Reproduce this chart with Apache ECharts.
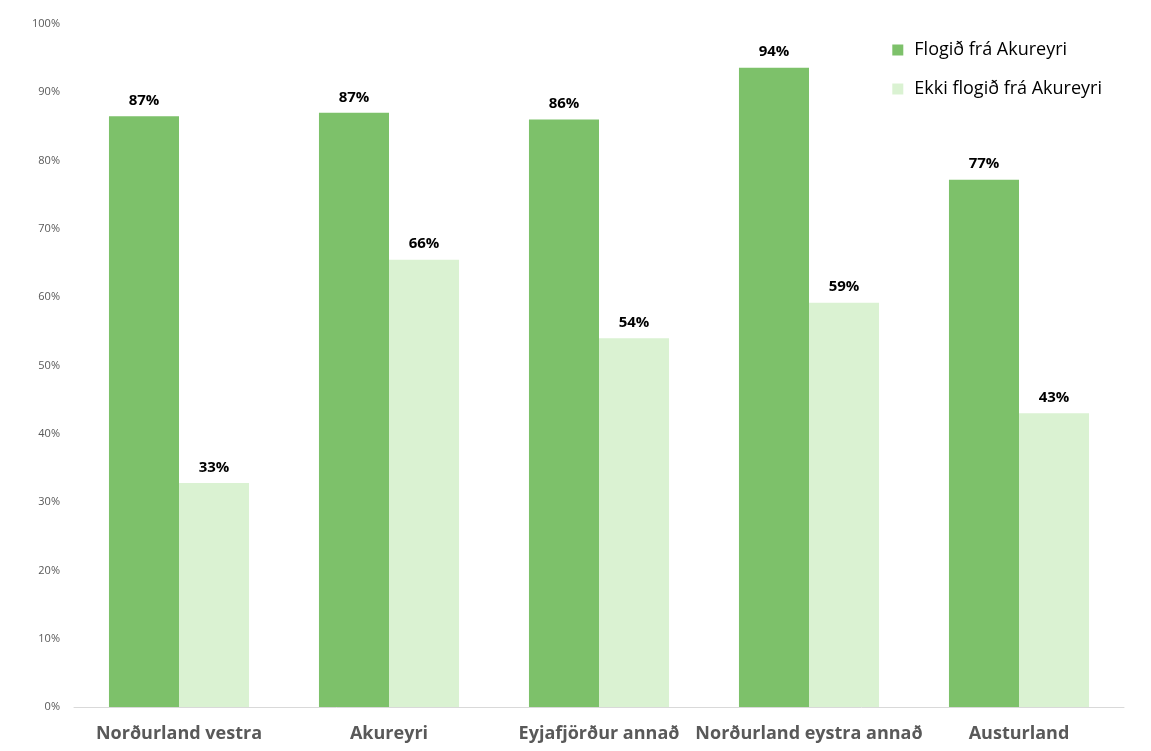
<!DOCTYPE html>
<html>
<head>
<meta charset="utf-8">
<script src="https://cdn.jsdelivr.net/npm/echarts@6/dist/echarts.min.js"></script>
<style>html,body{margin:0;padding:0;background:#fff;}#c{width:1151px;height:751px;}</style>
</head>
<body>
<div id="c"></div>
<script>
var categories = ['Norðurland vestra', 'Akureyri', 'Eyjafjörður annað', 'Norðurland eystra annað', 'Austurland'];
var seriesNames = ['Flogið frá Akureyri', 'Ekki flogið frá Akureyri'];
var flogid = [86.5, 87.0, 86.0, 93.6, 77.2];
var ekkiFlogid = [32.8, 65.5, 54.0, 59.2, 43.0];
var yTicks = [0, 10, 20, 30, 40, 50, 60, 70, 80, 90, 100];

var chart = echarts.init(document.getElementById('c'));
var labelStyle = {
  show: true, position: 'top', distance: 8,
  formatter: function (p) { return Math.round(p.value) + '%'; },
  fontFamily: 'Open Sans', fontWeight: 'bold', fontSize: 15, color: '#000'
};
chart.setOption({
  animation: false,
  grid: { left: 74, right: 27, top: 24, bottom: 44 },
  legend: {
    orient: 'vertical', right: 44, top: 36, itemGap: 21,
    itemWidth: 11, itemHeight: 11, icon: 'rect',
    textStyle: { fontFamily: 'Open Sans', fontSize: 18, color: '#000', padding: [0, 0, 0, 6] },
    data: seriesNames
  },
  xAxis: {
    type: 'category', data: categories,
    axisLine: { lineStyle: { color: '#d9d9d9', width: 1 } },
    axisTick: { show: false },
    axisLabel: { fontFamily: 'Open Sans', fontWeight: 'bold', fontSize: 18, color: '#595959', margin: 18, interval: 0 }
  },
  yAxis: {
    type: 'value', min: 0, max: 100, interval: 10,
    splitLine: { show: false },
    axisLine: { show: false }, axisTick: { show: false },
    axisLabel: { fontFamily: 'Open Sans', fontSize: 11, color: '#595959', margin: 14,
      formatter: function (v) { return yTicks.indexOf(v) >= 0 ? v + '%' : ''; } }
  },
  series: [
    { name: seriesNames[0], type: 'bar', data: flogid, barGap: '0%', barCategoryGap: '33.3%',
      itemStyle: { color: '#7dc16a' }, label: labelStyle },
    { name: seriesNames[1], type: 'bar', data: ekkiFlogid,
      itemStyle: { color: '#daf2d2' }, label: labelStyle }
  ]
});
</script>
</body>
</html>
